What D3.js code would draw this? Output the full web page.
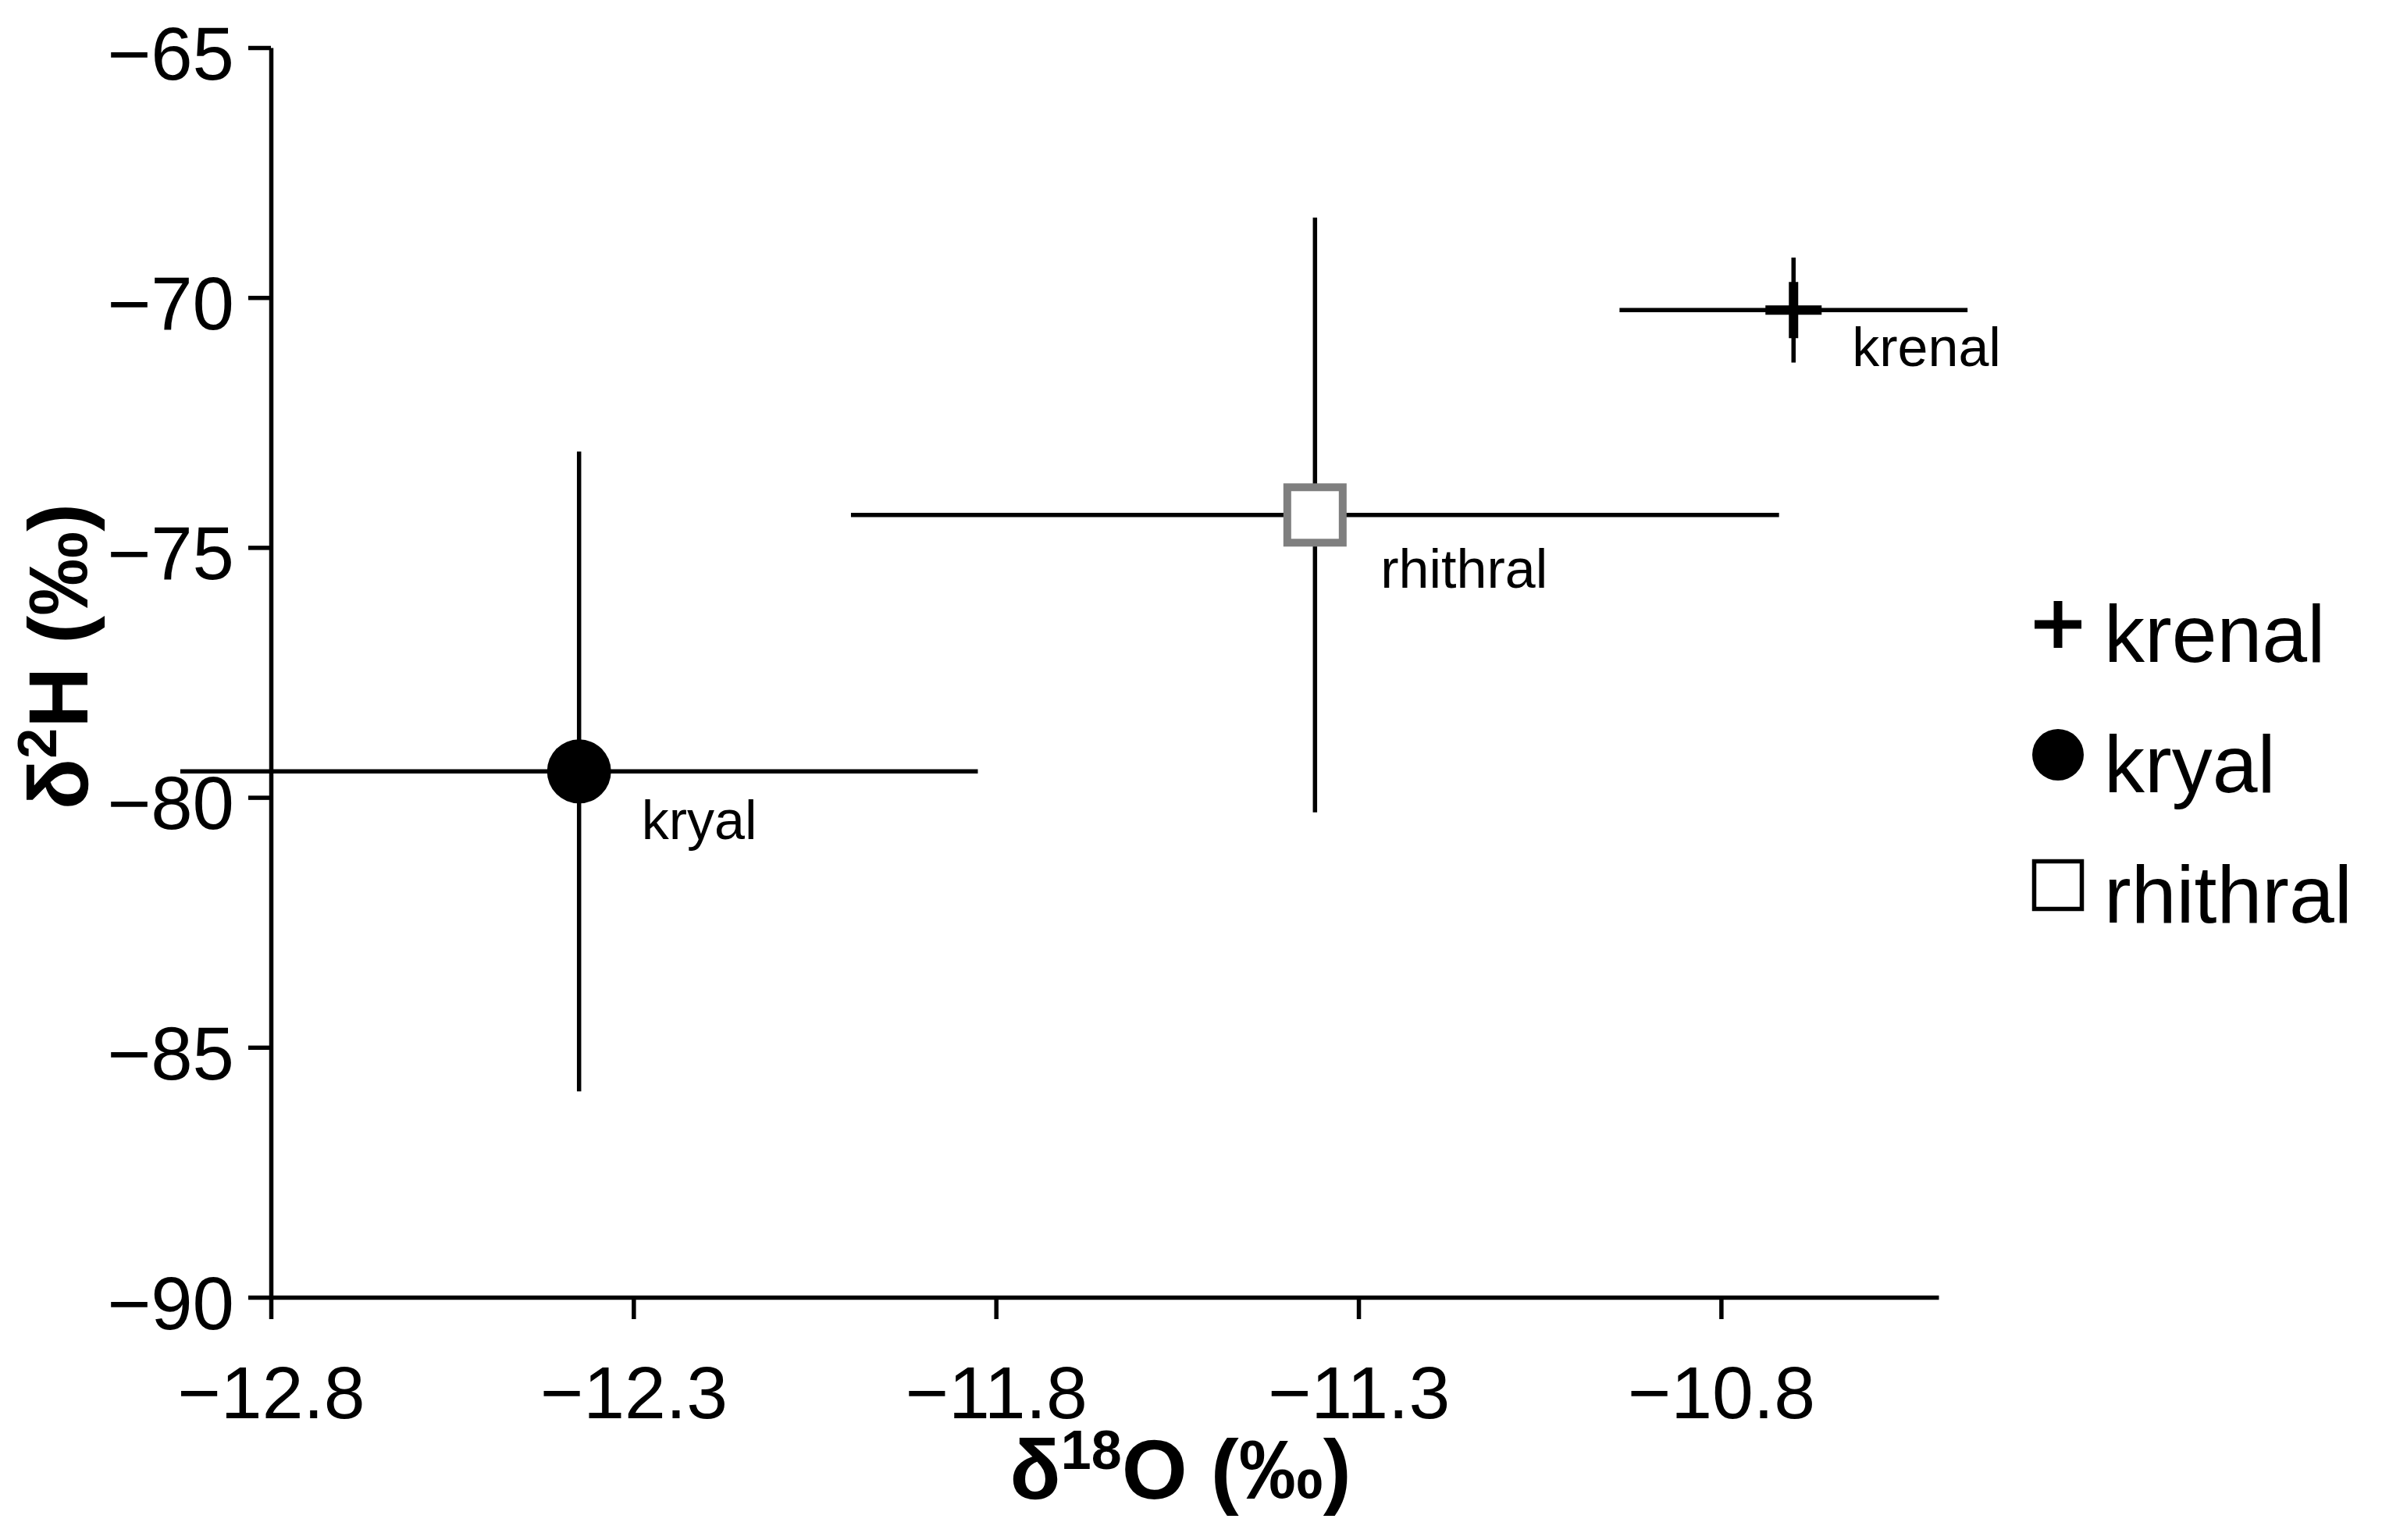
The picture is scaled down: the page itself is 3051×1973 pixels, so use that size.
<!DOCTYPE html>
<html>
<head>
<meta charset="utf-8">
<script src="https://cdn.jsdelivr.net/npm/d3@7"></script>
<style>
  html, body { margin: 0; padding: 0; background: #ffffff; }
  svg { display: block; }
  text { font-family: "Liberation Sans", Arial, Helvetica, sans-serif; fill: #000; }
</style>
</head>
<body>
<svg id="chart" width="3051" height="1973"></svg>
<script>
// ---------- data ----------
const categories   = ["krenal", "kryal", "rhithral"];
const d18O         = [-10.70, -12.375, -11.36];
const d18OErr      = [0.24, 0.55, 0.64];
const d2H          = [-70.25, -79.48, -74.35];
const d2HErr       = [1.05, 6.40, 5.95];
const xTickValues  = [-12.8, -12.3, -11.8, -11.3, -10.8];
const xTickLabels  = ["\u221212.8", "\u221212.3", "\u221211.8", "\u221211.3", "\u221210.8"];
const yTickValues  = [-90, -85, -80, -75, -70, -65];
const yTickLabels  = ["\u221290", "\u221285", "\u221280", "\u221275", "\u221270", "\u221265"];
const xDomain      = [-12.8, -10.5];
const yDomain      = [-90, -65];

// ---------- layout ----------
const svg = d3.select("#chart");
const plotLeft = 347, plotRight = 2483, plotTop = 61, plotBottom = 1662;
const x = d3.scaleLinear().domain(xDomain).range([plotLeft, plotRight]);
const y = d3.scaleLinear().domain(yDomain).range([plotBottom, plotTop]);
const axisW = 5.5;

// ---------- axes ----------
const xAxis = d3.axisBottom(x)
  .tickValues(xTickValues)
  .tickFormat((d, i) => xTickLabels[i])
  .tickSizeInner(28).tickSizeOuter(0).tickPadding(10);
const gx = svg.append("g").attr("transform", `translate(0,${plotBottom})`).call(xAxis);
gx.select(".domain").attr("stroke-width", axisW).attr("stroke", "#000");
gx.selectAll(".tick line").attr("stroke-width", axisW).attr("stroke", "#000");
gx.selectAll(".tick text").attr("font-size", 95).attr("dy", null).attr("y", 155)
  .attr("font-family", "Liberation Sans, Arial, sans-serif").attr("fill", "#000");

const yAxis = d3.axisLeft(y)
  .tickValues(yTickValues)
  .tickFormat((d, i) => yTickLabels[i])
  .tickSizeInner(29).tickSizeOuter(0).tickPadding(18);
const gy = svg.append("g").attr("transform", `translate(${plotLeft},0)`).call(yAxis);
gy.select(".domain").attr("stroke-width", axisW).attr("stroke", "#000");
gy.selectAll(".tick line").attr("stroke-width", axisW).attr("stroke", "#000");
gy.selectAll(".tick text").attr("font-size", 96).attr("dy", "0.42em")
  .attr("font-family", "Liberation Sans, Arial, sans-serif").attr("fill", "#000");

// ---------- axis titles ----------
const xt = svg.append("text")
  .attr("x", 1512).attr("y", 1920)
  .attr("text-anchor", "middle")
  .attr("font-size", 108).attr("font-weight", "bold");
xt.append("tspan").text("\u03b4");
xt.append("tspan").attr("font-size", 70).attr("dy", -38).text("18");
xt.append("tspan").attr("dy", 38).text("O (\u2030)");

const yt = svg.append("text")
  .attr("transform", "translate(112,841) rotate(-90)")
  .attr("text-anchor", "middle")
  .attr("font-size", 108).attr("font-weight", "bold");
yt.append("tspan").text("\u03b4");
yt.append("tspan").attr("font-size", 70).attr("dy", -40).text("2");
yt.append("tspan").attr("dy", 40).text("H (\u2030)");

// ---------- error bars ----------
const pts = categories.map((c, i) => ({
  cat: c, x: d18O[i], xe: d18OErr[i], y: d2H[i], ye: d2HErr[i]
}));
const eb = svg.append("g").attr("stroke", "#000").attr("stroke-width", 5.5);
eb.selectAll("line.h").data(pts).join("line").attr("class", "h")
  .attr("x1", d => x(d.x - d.xe)).attr("x2", d => x(d.x + d.xe))
  .attr("y1", d => y(d.y)).attr("y2", d => y(d.y));
eb.selectAll("line.v").data(pts).join("line").attr("class", "v")
  .attr("x1", d => x(d.x)).attr("x2", d => x(d.x))
  .attr("y1", d => y(d.y + d.ye)).attr("y2", d => y(d.y - d.ye));

// ---------- markers ----------
function drawMarker(g, cat, cx, cy, legend) {
  if (cat === "krenal") {
    const h = legend ? 30 : 36, w = legend ? 11 : 12;
    g.append("line").attr("x1", cx - h).attr("x2", cx + h).attr("y1", cy).attr("y2", cy)
      .attr("stroke", "#000").attr("stroke-width", w);
    g.append("line").attr("x1", cx).attr("x2", cx).attr("y1", cy - h).attr("y2", cy + h)
      .attr("stroke", "#000").attr("stroke-width", w);
  } else if (cat === "kryal") {
    g.append("circle").attr("cx", cx).attr("cy", cy).attr("r", legend ? 33 : 41).attr("fill", "#000");
  } else {
    const s = legend ? 61 : 71;
    g.append("rect").attr("x", cx - s / 2).attr("y", cy - s / 2).attr("width", s).attr("height", s)
      .attr("fill", "#fff")
      .attr("stroke", legend ? "#000" : "#7f7f7f")
      .attr("stroke-width", legend ? 5.5 : 10);
  }
}
const mk = svg.append("g");
pts.forEach(d => drawMarker(mk, d.cat, x(d.x), y(d.y), false));

// ---------- point labels ----------
const labelOffset = { krenal: [75, 72], kryal: [80, 87], rhithral: [84, 93] };
svg.append("g").selectAll("text").data(pts).join("text")
  .attr("x", d => x(d.x) + labelOffset[d.cat][0])
  .attr("y", d => y(d.y) + labelOffset[d.cat][1])
  .attr("font-size", 70)
  .text(d => d.cat);

// ---------- legend ----------
const legend = svg.append("g");
const legendX = 2636, legendTextX = 2695, legendBase0 = 848, legendStep = 167;
categories.forEach((c, i) => {
  const base = legendBase0 + i * legendStep;
  drawMarker(legend, c, legendX, base - 48, true);
  legend.append("text").attr("x", legendTextX).attr("y", base).attr("font-size", 104).text(c);
});
</script>
</body>
</html>
